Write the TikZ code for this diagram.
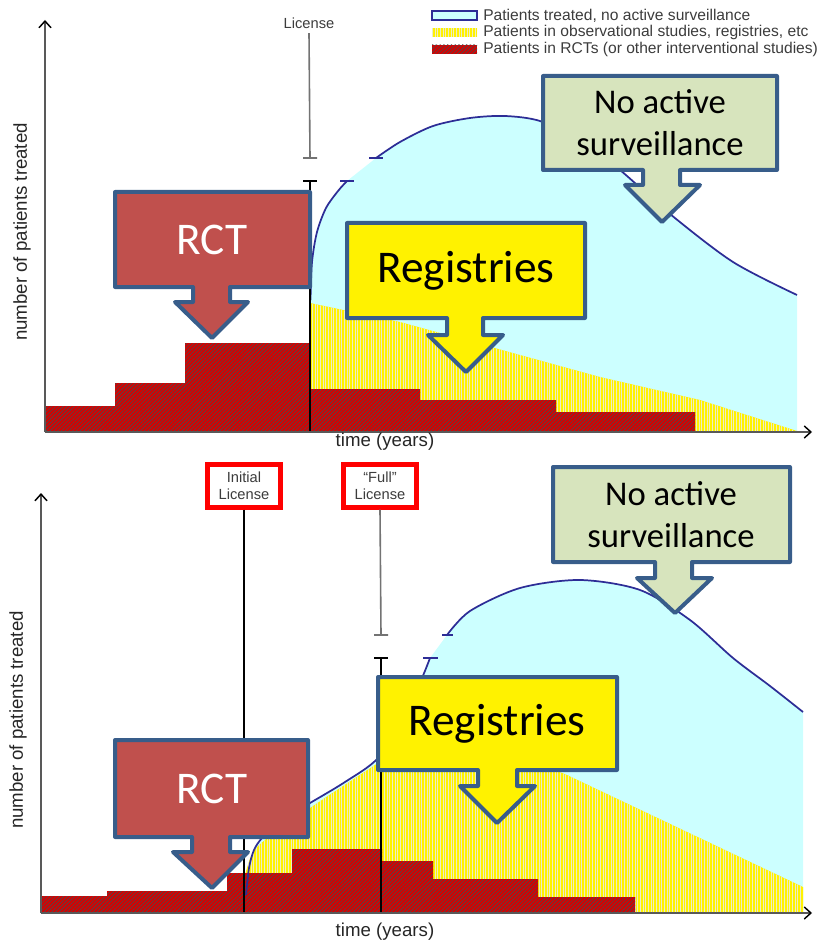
\documentclass[tikz,border=0pt]{standalone}
\usepackage{fontspec}
\setmainfont{Liberation Sans}
\newfontfamily\calloutfont{Carlito}
\usetikzlibrary{arrows.meta,patterns.meta}

\definecolor{rctred}{RGB}{192,80,77}
\definecolor{calloutblue}{RGB}{56,93,138}
\definecolor{surveilgreen}{RGB}{215,228,189}
\definecolor{palecyan}{RGB}{204,255,255}
\definecolor{curveblue}{RGB}{45,45,150}
\definecolor{trialred}{RGB}{215,0,0}
\definecolor{labelgrey}{RGB}{60,60,60}

\tikzset{
  callout/.style={draw=calloutblue, line width=3pt, line join=round},
  bigtext/.style={font=\calloutfont\fontsize{34}{38}\selectfont},
  midtext/.style={font=\calloutfont\fontsize{26}{31.5}\selectfont, align=center},
  trials/.style={fill=trialred, postaction={pattern={Lines[angle=45,distance=2pt,line width=.45pt]}, pattern color=black!70}},
  observ/.style={fill=yellow, postaction={pattern={Lines[angle=90,distance=2pt,line width=.25pt]}, pattern color=olive!15}},
  untreated/.style={fill=palecyan},
  bluecurve/.style={draw=curveblue, line width=1.3pt},
  axis/.style={draw=black!65, line width=1.1pt, -{Straight Barb[length=5pt,width=9pt,black]}},
  axistext/.style={font=\fontsize{14}{16}\selectfont, text=black!85},
  legendtext/.style={anchor=west, inner sep=0pt, font=\fontsize{11.7}{13}\selectfont, text=labelgrey},
  licbox/.style={draw=red, line width=3.5pt, fill=white, minimum width=55pt, minimum height=32pt, inner sep=1pt, align=center, font=\fontsize{11}{12.5}\selectfont, text=labelgrey},
  licline/.style={draw=black!55, line width=1.2pt},
  breakline/.style={draw=black, line width=.8pt}
}

\begin{document}
\begin{tikzpicture}[x=0.75pt,y=-0.75pt]
\useasboundingbox (0,0) rectangle (822,941);

% legend
\draw[bluecurve, fill=palecyan] (432,11) rectangle (477,20);
\path[observ] (432,28) rectangle (477,37);
\path[trials] (432,45) rectangle (477,54);
\node[legendtext] (leg1) at (483,16) {Patients treated, no active surveillance};
\node[legendtext] (leg2) at (483,32.5) {Patients in observational studies, registries, etc};
\node[legendtext] (leg3) at (483,49.5) {Patients in RCTs (or other interventional studies)};

% ---- upper chart ----
\fill[untreated] (310,432) -- plot[smooth] coordinates {(310.5,300)(312,262)(317,232)(326,208)(338,191)(347,181)}
  -- plot[smooth] coordinates {(376,158)(400,142)(433,126)(470,118)(505,116)(540,121)(580,140)(620,170)(670,214)(733,262)(797,295)}
  -- (797,432) -- cycle;
\path[observ] (310,432) -- (310,303) -- (400,322) -- (600,377) -- (700,400) -- (797,431) -- cycle;
\path[trials] (45,432) -- (45,406) -- (115,406) -- (115,383) -- (185,383) -- (185,343) -- (310,343) -- (310,389)
  -- (420,389) -- (420,400) -- (556,400) -- (556,412) -- (695,412) -- (695,432) -- cycle;
\draw[bluecurve] plot[smooth] coordinates {(310.5,300)(312,262)(317,232)(326,208)(338,191)(347,181)};
\draw[bluecurve] plot[smooth] coordinates {(376,158)(400,142)(433,126)(470,118)(505,116)(540,121)(580,140)(620,170)(670,214)(733,262)(797,295)};
\draw[bluecurve] (340,181) -- (354,181) (369,158) -- (383,158);

\node[font=\fontsize{11}{13}\selectfont, text=labelgrey] (lic) at (309,23) {License};
\coordinate (licbreakA) at (310,158);
\coordinate (licbreakB) at (310,181);
\coordinate (axisA) at (0,432);
\draw[licline] (lic.south) -- (licbreakA) ++(-7,0) -- ++(14,0);
\draw[breakline] (licbreakB) ++(-7,0) -- ++(14,0);
\draw[breakline] (licbreakB) -- (licbreakB |- axisA);

\draw[axis] (45,432) -- (45,20);
\draw[axis] (45,432) -- (812,432);
\node[axistext] (time1) at (385,442) {time (years)};
\node[axistext, rotate=90] (num1) at (22,232) {number of patients treated};

% callouts
\draw[callout, fill=rctred] (115,192) -- (310,192) -- (310,287) -- (230,287) -- (230,302) -- (248,302) -- (212,338)
  -- (175,302) -- (193,302) -- (193,287) -- (115,287) -- cycle;
\node[bigtext, text=white] (rct1) at (212,240) {RCT};
\draw[callout, fill=yellow] (347,223) -- (585,223) -- (585,318) -- (483,318) -- (483,335) -- (503,335) -- (466,372)
  -- (428,335) -- (447,335) -- (447,318) -- (347,318) -- cycle;
\node[bigtext] (reg1) at (466,271) {Registries};
\draw[callout, fill=surveilgreen] (543,76) -- (777,76) -- (777,170) -- (680,170) -- (680,185) -- (700,185) -- (662,222)
  -- (625,185) -- (643,185) -- (643,170) -- (543,170) -- cycle;
\node[midtext] (nas1) at (660,123) {No active\\surveillance};

% ---- lower chart ----
\fill[untreated] (245,913) -- plot[smooth] coordinates {(246,895)(249,868)(254,850)(263,837)(285,818)(310,803)(345,782)(378,758)(405,715)(422,678)(430,658)}
  -- plot[smooth] coordinates {(447,635)(470,611)(520,588)(580,580)(640,590)(690,620)(733,658)(770,686)(803,712)}
  -- (803,913) -- cycle;
\path[observ] (245,913) -- plot[smooth] coordinates {(245,875)(252,854)(265,840)(310,808)(378,763)} -- (440,722) -- (567,775) -- (803,887) -- (803,913) -- cycle;
\path[trials] (42,913) -- (42,896) -- (107,896) -- (107,891) -- (227,891) -- (227,873) -- (292,873) -- (292,849)
  -- (382,849) -- (382,861) -- (433,861) -- (433,879) -- (538,879) -- (538,897) -- (635,897) -- (635,913) -- cycle;
\draw[bluecurve] plot[smooth] coordinates {(246,895)(249,868)(254,850)(263,837)(285,818)(310,803)(345,782)(378,758)(405,715)(422,678)(430,658)};
\draw[bluecurve] plot[smooth] coordinates {(447,635)(470,611)(520,588)(580,580)(640,590)(690,620)(733,658)(770,686)(803,712)};
\draw[bluecurve] (423,658) -- (438,658) (442,635) -- (453,635);

\coordinate (axisB) at (0,913);
\node[licbox] (initlic) at (244,486) {Initial\\License};
\node[licbox] (fulllic) at (380,486) {“Full”\\License};
\coordinate (fullbreakA) at (381,635);
\coordinate (fullbreakB) at (381,658);
\draw[breakline] (initlic.south) -- (initlic.south |- axisB);
\draw[licline] (fulllic.south) -- (fullbreakA) ++(-7,0) -- ++(14,0);
\draw[breakline] (fullbreakB) ++(-7,0) -- ++(14,0);
\draw[breakline] (fullbreakB) -- (fullbreakB |- axisB);

\draw[axis] (41,913) -- (41,493);
\draw[axis] (41,913) -- (812,913);
\node[axistext] (time2) at (385,932) {time (years)};
\node[axistext, rotate=90] (num2) at (18,720) {number of patients treated};

% callouts
\draw[callout, fill=rctred] (115,740) -- (308,740) -- (308,837) -- (230,837) -- (230,852) -- (248,852) -- (212,888)
  -- (173,852) -- (192,852) -- (192,837) -- (115,837) -- cycle;
\node[bigtext, text=white] (rct2) at (212,789) {RCT};
\draw[callout, fill=yellow] (378,677) -- (617,677) -- (617,770) -- (517,770) -- (517,786) -- (535,786) -- (497,823)
  -- (460,786) -- (478,786) -- (478,770) -- (378,770) -- cycle;
\node[bigtext] (reg2) at (497,724) {Registries};
\draw[callout, fill=surveilgreen] (553,467) -- (790,467) -- (790,562) -- (692,562) -- (692,578) -- (712,578) -- (675,613)
  -- (637,578) -- (655,578) -- (655,562) -- (553,562) -- cycle;
\node[midtext] (nas2) at (671,515) {No active\\surveillance};
\end{tikzpicture}
\end{document}
